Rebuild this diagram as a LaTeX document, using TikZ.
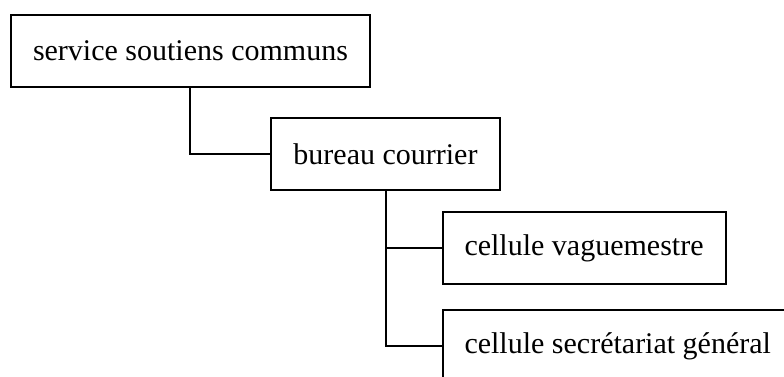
\documentclass[tikz,border=0pt]{standalone}
\usepackage{fontspec}
\setmainfont{Liberation Serif}
\usetikzlibrary{positioning}

\begin{document}
\begin{tikzpicture}[ box/.style={draw, line width=1pt, outer sep=0pt, inner xsep=11pt, minimum height=36pt, font=\fontsize{15}{18}\selectfont},
        e/.style={line width=1pt}]
        \useasboundingbox (0,0) rectangle (392pt,-188pt);
        \clip (0,0) rectangle (392pt,-188pt);

        \node[box, anchor=north west] (soutiens) at (5.5pt,-7.5pt) {service soutiens communs};
        \node[box, below right=15.5pt and 40.5pt of soutiens.south] (courrier) {bureau courrier};
        \node[box, below right=11pt and 28.5pt of courrier.south] (vague) {cellule vaguemestre};
        \node[box, below right=13pt and 0pt of vague.south west] (secr) {cellule secrétariat général};

        \draw[e] (soutiens.south) |- (courrier.west);
        \foreach \y in {vague, secr}
        \draw[e] (courrier.south) |- (\y.west);
      \end{tikzpicture}
\end{document}
